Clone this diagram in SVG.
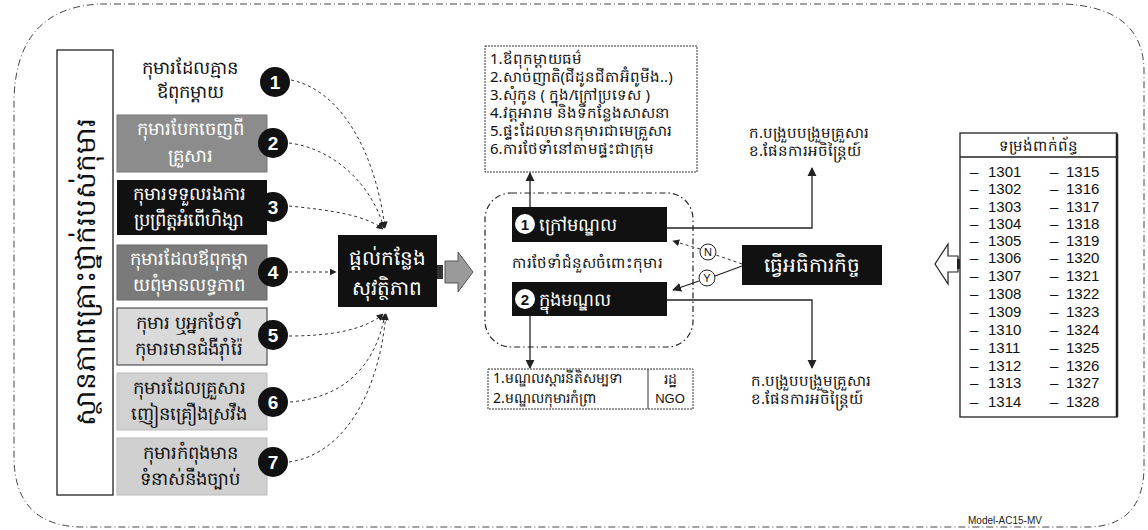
<svg xmlns="http://www.w3.org/2000/svg" width="1148" height="530" viewBox="0 0 1148 530">
<defs>
<style>
.km{font-family:"Noto Sans","DejaVu Sans",sans-serif;}
.t16{font-size:18px;}
.w{fill:#ffffff;}
.b{fill:#111111;}
.dot{fill:none;stroke:#333;stroke-width:1;stroke-dasharray:3 3;}
.solid{fill:none;stroke:#222;stroke-width:1.3;}
.num{font-family:"Liberation Sans",Arial,sans-serif;font-size:15px;fill:#111;}
.circ{fill:#111;}
.ctext{font-family:"Liberation Sans",Arial,sans-serif;font-weight:bold;font-size:19px;fill:#fff;text-anchor:middle;}
</style>
<marker id="ah" viewBox="0 0 10 10" refX="9" refY="5" markerWidth="7" markerHeight="7" orient="auto-start-reverse">
<path d="M0,0 L10,5 L0,10 z" fill="#222"/>
</marker>
</defs>
<rect width="1148" height="530" fill="#ffffff"/>

<!-- outer border -->
<path id="outer" d="M100,4 L1065,4 Q1143,8 1144,70 L1144,470 Q1142,525 1090,527 L80,527 Q16,525 14,460 L14,100 Q16,8 100,4 Z" fill="none" stroke="#444" stroke-width="1" stroke-dasharray="7 3 1 3"/>

<!-- left vertical label -->
<g id="situation">
<rect x="57" y="50" width="56" height="445" fill="#fff" stroke="#222" stroke-width="1.3"/>
<text class="km" font-size="28" fill="#111" text-anchor="middle" transform="translate(95,272) rotate(-90)">ស្ថានភាពគ្រោះថ្នាក់របស់កុមារ</text>
</g>

<g id="case1">
<text class="km t16 b" x="190" y="74" text-anchor="middle">កុមារដែលគ្មាន</text>
<text class="km t16 b" x="190" y="98" text-anchor="middle">ឪពុកម្តាយ</text>
<circle class="circ" cx="275" cy="82" r="15"/><text class="ctext" x="275" y="89">1</text>
</g>
<g id="case2">
<rect x="117" y="115" width="150" height="57" fill="#8c8c8c" stroke="#777"/>
<text class="km t16 w" x="190" y="135" text-anchor="middle">កុមារបែកចេញពី</text>
<text class="km t16 w" x="190" y="162" text-anchor="middle">គ្រួសារ</text>
<circle class="circ" cx="273" cy="143" r="15"/><text class="ctext" x="273" y="150">2</text>
</g>
<g id="case3">
<rect x="117" y="180" width="150" height="55" fill="#111"/>
<text class="km t16 w" x="189" y="200" text-anchor="middle">កុមារទទួលរងការ</text>
<text class="km t16 w" x="189" y="226" text-anchor="middle">ប្រព្រឹត្តអំពើហិង្សា</text>
<circle class="circ" cx="273" cy="207" r="15"/><text class="ctext" x="273" y="214">3</text>
</g>
<g id="case4">
<rect x="117" y="245" width="150" height="55" fill="#7a7a7a" stroke="#666"/>
<text class="km t16 w" x="189" y="265" text-anchor="middle">កុមារដែលឪពុកម្តា</text>
<text class="km t16 w" x="189" y="291" text-anchor="middle">យពុំមានលទ្ធភាព</text>
<circle class="circ" cx="273" cy="272" r="15"/><text class="ctext" x="273" y="279">4</text>
</g>
<g id="case5">
<rect x="117" y="308" width="150" height="57" fill="#dadada" stroke="#333"/>
<text class="km t16 b" x="189" y="329" text-anchor="middle">កុមារ ឬអ្នកថែទាំ</text>
<text class="km t16 b" x="189" y="355" text-anchor="middle">កុមារមានជំងឺរ៉ាំរ៉ៃ</text>
<circle class="circ" cx="273" cy="335" r="15"/><text class="ctext" x="273" y="342">5</text>
</g>
<g id="case6">
<rect x="117" y="373" width="150" height="57" fill="#d2d2d2" stroke="#bbb"/>
<text class="km t16 b" x="189" y="394" text-anchor="middle">កុមារដែលគ្រួសារ</text>
<text class="km t16 b" x="189" y="420" text-anchor="middle">ញៀនគ្រឿងស្រវឹង</text>
<circle class="circ" cx="273" cy="402" r="15"/><text class="ctext" x="273" y="409">6</text>
</g>
<g id="case7">
<rect x="117" y="438" width="150" height="57" fill="#d0d0d0" stroke="#bbb"/>
<text class="km t16 b" x="190" y="459" text-anchor="middle">កុមារកំពុងមាន</text>
<text class="km t16 b" x="190" y="485" text-anchor="middle">ទំនាស់នឹងច្បាប់</text>
<circle class="circ" cx="273" cy="462" r="15"/><text class="ctext" x="273" y="469">7</text>
</g>

<g id="safeplace">
<rect x="338" y="235" width="99" height="72" fill="#111"/>
<text class="km w" font-size="20" x="387" y="265" text-anchor="middle">ផ្តល់កន្លែង</text>
<text class="km w" font-size="20" x="387" y="295" text-anchor="middle">សុវត្ថិភាព</text>
</g>

<g id="bigarrow">
<rect x="437" y="265" width="6" height="14" fill="#333"/>
<polygon points="445,261 458,261 458,252 473,272 458,292 458,283 445,283" fill="#9a9a9a" stroke="#555" stroke-width="1"/>
</g>

<g id="altcare">
<rect x="485" y="193" width="208" height="154" rx="26" fill="none" stroke="#222" stroke-width="1.2" stroke-dasharray="6 3 1.5 3"/>
<rect x="512" y="207" width="155" height="35" fill="#111"/>
<circle cx="525" cy="224" r="10" fill="#fff"/>
<text x="525" y="230" font-family="Liberation Sans,Arial,sans-serif" font-weight="bold" font-size="15" fill="#111" text-anchor="middle">1</text>
<text class="km w" font-size="18" x="539" y="231">ក្រៅមណ្ឌល</text>
<text class="km b" font-size="15" x="512" y="268">ការថែទាំជំនួសចំពោះកុមារ</text>
<rect x="512" y="282" width="155" height="34" fill="#111"/>
<circle cx="525" cy="299" r="10" fill="#fff"/>
<text x="525" y="305" font-family="Liberation Sans,Arial,sans-serif" font-weight="bold" font-size="15" fill="#111" text-anchor="middle">2</text>
<text class="km w" font-size="18" x="539" y="306">ក្នុងមណ្ឌល</text>
</g>

<g id="outsidelist">
<rect x="485" y="46" width="212" height="126" fill="#fff" stroke="#333" stroke-width="1" stroke-dasharray="2 1"/>
<text class="km b" font-size="15" x="490" y="64">1.ឪពុកម្តាយធម៌</text>
<text class="km b" font-size="15" x="490" y="82">2.សាច់ញាតិ(ជីដូនជីតាអ៊ំពូមីង..)</text>
<text class="km b" font-size="15" x="490" y="100">3.សុំកូន ( ក្នុង/ក្រៅប្រទេស )</text>
<text class="km b" font-size="15" x="490" y="118">4.វត្តអារាម និងទីកន្លែងសាសនា</text>
<text class="km b" font-size="15" x="490" y="136">5.ផ្ទះដែលមានកុមារជាមេគ្រួសារ</text>
<text class="km b" font-size="15" x="490" y="154">6.ការថែទាំនៅតាមផ្ទះជាក្រុម</text>
</g>

<g id="insidelist">
<rect x="488" y="369" width="205" height="40" fill="#fff" stroke="#333" stroke-width="1" stroke-dasharray="2 1"/>
<line x1="648" y1="369" x2="648" y2="409" stroke="#333" stroke-width="1"/>
<text class="km b" font-size="14" x="493" y="383">1.មណ្ឌលស្តារនីតិសម្បទា</text>
<text class="km b" font-size="14" x="493" y="403">2.មណ្ឌលកុមារកំព្រា</text>
<text class="km b" font-size="14" x="670" y="384" text-anchor="middle">រដ្ឋ</text>
<text font-family="Liberation Sans,Arial,sans-serif" font-size="13" fill="#111" x="670" y="403" text-anchor="middle">NGO</text>
</g>

<g id="reunify1">
<text class="km b" font-size="15" x="749" y="138">ក.បង្រួបបង្រួមគ្រួសារ</text>
<text class="km b" font-size="15" x="749" y="156">ខ.ផែនការអចិន្ត្រៃយ៍</text>
</g>
<g id="reunify2">
<text class="km b" font-size="15" x="751" y="386">ក.បង្រួបបង្រួមគ្រួសារ</text>
<text class="km b" font-size="15" x="751" y="404">ខ.ផែនការអចិន្ត្រៃយ៍</text>
</g>

<g id="inspect">
<rect x="742" y="245" width="140" height="40" fill="#111"/>
<text class="km w" font-size="20" x="812" y="272" text-anchor="middle">ធ្វើអធិការកិច្ច</text>
</g>

<g id="forms">
<rect x="960" y="133" width="157" height="284" fill="#fff" stroke="#222" stroke-width="1.3"/>
<line x1="1117" y1="134" x2="1117" y2="417" stroke="#222" stroke-width="2.5"/>
<line x1="960" y1="157" x2="1117" y2="157" stroke="#222" stroke-width="1.3"/>
<text class="km b" font-size="15" x="1038" y="151" text-anchor="middle">ទម្រង់ពាក់ព័ន្ធ</text>
<g class="num">
<text x="970" y="177">–</text><text x="988" y="177">1301</text><text x="1050" y="177">–</text><text x="1066" y="177">1315</text>
<text x="970" y="194">–</text><text x="988" y="194">1302</text><text x="1050" y="194">–</text><text x="1066" y="194">1316</text>
<text x="970" y="212">–</text><text x="988" y="212">1303</text><text x="1050" y="212">–</text><text x="1066" y="212">1317</text>
<text x="970" y="229">–</text><text x="988" y="229">1304</text><text x="1050" y="229">–</text><text x="1066" y="229">1318</text>
<text x="970" y="246">–</text><text x="988" y="246">1305</text><text x="1050" y="246">–</text><text x="1066" y="246">1319</text>
<text x="970" y="263">–</text><text x="988" y="263">1306</text><text x="1050" y="263">–</text><text x="1066" y="263">1320</text>
<text x="970" y="281">–</text><text x="988" y="281">1307</text><text x="1050" y="281">–</text><text x="1066" y="281">1321</text>
<text x="970" y="299">–</text><text x="988" y="299">1308</text><text x="1050" y="299">–</text><text x="1066" y="299">1322</text>
<text x="970" y="317">–</text><text x="988" y="317">1309</text><text x="1050" y="317">–</text><text x="1066" y="317">1323</text>
<text x="970" y="335">–</text><text x="988" y="335">1310</text><text x="1050" y="335">–</text><text x="1066" y="335">1324</text>
<text x="970" y="353">–</text><text x="988" y="353">1311</text><text x="1050" y="353">–</text><text x="1066" y="353">1325</text>
<text x="970" y="371">–</text><text x="988" y="371">1312</text><text x="1050" y="371">–</text><text x="1066" y="371">1326</text>
<text x="970" y="388">–</text><text x="988" y="388">1313</text><text x="1050" y="388">–</text><text x="1066" y="388">1327</text>
<text x="970" y="407">–</text><text x="988" y="407">1314</text><text x="1050" y="407">–</text><text x="1066" y="407">1328</text>
</g>
</g>

<g id="leftarrow">
<polygon points="958,256 948,256 948,244 935,264 948,284 948,272 958,272" fill="#fff" stroke="#222" stroke-width="1.2"/>
<rect x="957" y="259" width="3" height="10" fill="#222"/>
</g>

<g id="connectors">
<path class="dot" d="M291,80 C340,90 375,150 385,228" marker-end="url(#ah)"/>
<path class="dot" d="M289,143 C330,148 370,180 384,228" marker-end="url(#ah)"/>
<path class="dot" d="M289,206 C330,210 365,215 383,229" marker-end="url(#ah)"/>
<path class="dot" d="M289,272 L336,272" marker-end="url(#ah)"/>
<path class="dot" d="M289,336 C330,336 365,330 383,314" marker-end="url(#ah)"/>
<path class="dot" d="M290,402 C340,398 375,370 385,314" marker-end="url(#ah)"/>
<path class="dot" d="M289,462 C340,455 378,400 386,314" marker-end="url(#ah)"/>
<path class="solid" d="M530,207 L530,173" marker-end="url(#ah)"/>
<path class="solid" d="M530,316 L530,368" marker-end="url(#ah)"/>
<path class="solid" d="M667,228 L812,228 L812,168" marker-end="url(#ah)"/>
<path class="solid" d="M667,300 L812,300 L812,368" marker-end="url(#ah)"/>
<path class="dot" d="M742,264 L716,255"/>
<path class="dot" d="M700,249 L673,241" marker-end="url(#ah)"/>
<path class="solid" d="M742,266 L715,276"/>
<path class="solid" d="M699,281 L673,290" marker-end="url(#ah)"/>
<circle cx="708" cy="252" r="8" fill="#fff" stroke="#222" stroke-width="1"/>
<text x="708" y="256" font-family="Liberation Sans,Arial,sans-serif" font-size="11" fill="#111" text-anchor="middle">N</text>
<circle cx="707" cy="278" r="8" fill="#fff" stroke="#222" stroke-width="1"/>
<text x="707" y="282" font-family="Liberation Sans,Arial,sans-serif" font-size="11" fill="#111" text-anchor="middle">Y</text>
</g>

<text id="model" x="968" y="524" font-family="Liberation Sans,Arial,sans-serif" font-size="10" fill="#222">Model-AC15-MV</text>
</svg>
